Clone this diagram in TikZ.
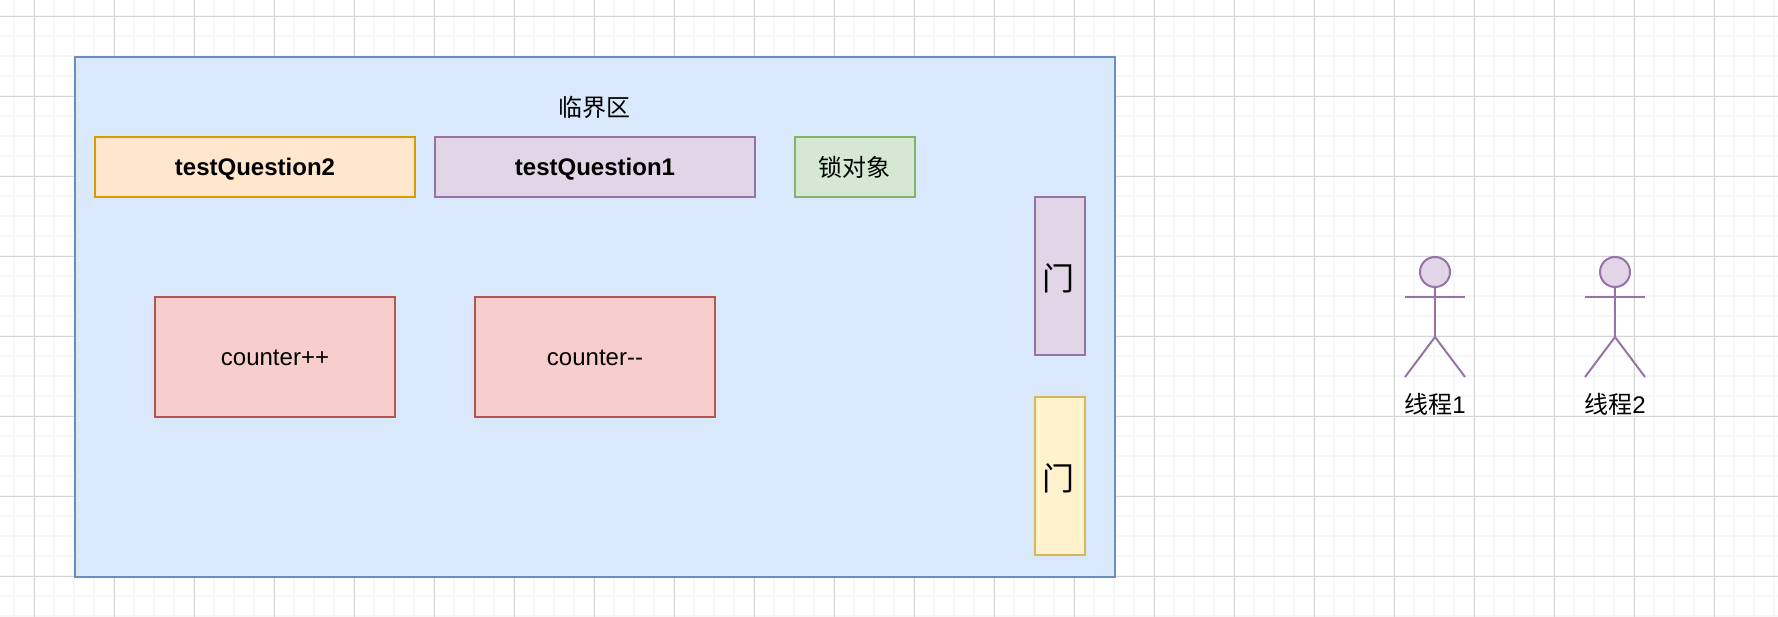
\documentclass[tikz,border=0pt]{standalone}
\usepackage{fontspec}
\setmainfont{Liberation Sans}
\newfontfamily\cjk{Noto Sans CJK SC}
\definecolor{gridmajor}{HTML}{D4D4D4}
\definecolor{gridminor}{HTML}{F6F6F6}
\definecolor{blueFill}{HTML}{DAE8FC}\definecolor{blueLine}{HTML}{6C8EBF}
\definecolor{orangeFill}{HTML}{FFE6CC}\definecolor{orangeLine}{HTML}{D79B00}
\definecolor{purpleFill}{HTML}{E1D5E7}\definecolor{purpleLine}{HTML}{9673A6}
\definecolor{greenFill}{HTML}{D5E8D4}\definecolor{greenLine}{HTML}{82B366}
\definecolor{redFill}{HTML}{F8CECC}\definecolor{redLine}{HTML}{B85450}
\definecolor{yellowFill}{HTML}{FFF2CC}\definecolor{yellowLine}{HTML}{D6B656}
\tikzset{
  x=1pt,y=-1pt,
  box/.style={draw=#1Line,fill=#1Fill,line width=2pt,inner sep=0pt},
  boxtext/.style={inner sep=0pt,text=black,font=\fontsize{24}{28}\selectfont},
  stick/.style={draw=purpleLine,line width=2pt},
  caption/.style={inner sep=0pt,font=\fontsize{24}{28}\selectfont}
}
% A box given by its centre and its size; its text sits a little lower than the centre
\newcommand{\boxnode}[8]{%
  \node[box=#2,minimum width=#5pt,minimum height=#6pt] (#1) at (#3,#4) {};
  \node[boxtext] (#1text) at ([yshift=-#7pt]#1.center) {#8};
}
% A stick figure given by its name and the x of its axis
\newcommand{\stickman}[2]{
  \node[stick,fill=purpleFill,circle,minimum size=30pt,inner sep=0pt] (#1head) at (#2,272) {};
  \coordinate (#1hip) at (#2,337);
  \coordinate (#1armL) at (#2-30,297);
  \coordinate (#1armR) at (#2+30,297);
  \coordinate (#1footL) at (#2-30,377);
  \coordinate (#1footR) at (#2+30,377);
  \draw[stick] (#1head.south) -- (#1hip);
  \draw[stick] (#1armL) -- (#1armR);
  \draw[stick] (#1footL) -- (#1hip) -- (#1footR);
}
\begin{document}
\begin{tikzpicture}
\useasboundingbox (0,0) rectangle (1778,617);
\fill[white] (0,0) rectangle (1778,617);
% Background grid: fine lines first, coarse lines above them
\foreach \gx in {14,34,...,1774} \draw[gridminor,line width=1.6pt] (\gx,0) -- (\gx,617);
\foreach \gy in {16,36,...,616} \draw[gridminor,line width=1.6pt] (0,\gy) -- (1778,\gy);
\foreach \gx in {34.5,114.5,...,1770} \draw[gridmajor,line width=1pt] (\gx,0) -- (\gx,617);
\foreach \gy in {16.5,96.5,...,610} \draw[gridmajor,line width=1pt] (0,\gy) -- (1778,\gy);
% Critical section and its contents
\boxnode{zone}{blue}{595}{317}{1040}{520}{0}{}
\node[caption,font=\fontsize{24}{28}\selectfont\cjk] (title) at (594,107) {临界区};
\boxnode{tq2}{orange}{255}{167}{320}{60}{2}{\textbf{testQuestion2}}
\boxnode{tq1}{purple}{595}{167}{320}{60}{2}{\textbf{testQuestion1}}
\boxnode{lock}{green}{855}{167}{120}{60}{0}{\hspace*{-2pt}\cjk 锁对象}
\boxnode{inc}{red}{275}{357}{240}{120}{0.5}{counter++}
\boxnode{dec}{red}{595}{357}{240}{120}{0.5}{counter-{}-}
\boxnode{doorA}{purple}{1060}{276}{50}{158}{2}{\hspace*{-4pt}\fontsize{32}{36}\selectfont\cjk 门}
\boxnode{doorB}{yellow}{1060}{476}{50}{158}{2}{\hspace*{-4pt}\fontsize{32}{36}\selectfont\cjk 门}
% Threads waiting outside
\stickman{t1}{1435}
\stickman{t2}{1615}
\node[caption] (t1label) at (1435,404) {{\cjk 线程}1};
\node[caption] (t2label) at (1615,404) {{\cjk 线程}2};
\end{tikzpicture}
\end{document}
